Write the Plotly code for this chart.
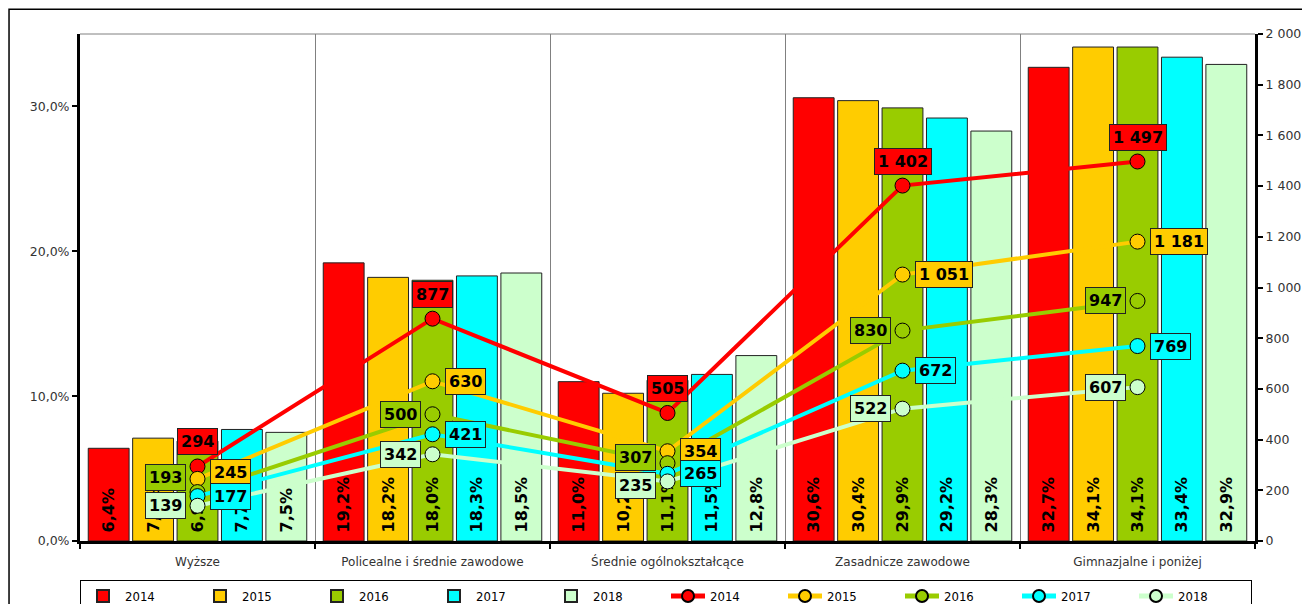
import plotly.graph_objects as go

categories = ["Wyższe", "Policealne i średnie zawodowe", "Średnie ogólnokształcące",
              "Zasadnicze zawodowe", "Gimnazjalne i poniżej"]
years = ["2014", "2015", "2016", "2017", "2018"]

# share of each education level (%), left axis
share = {
    "2014": [6.4, 19.2, 11.0, 30.6, 32.7],
    "2015": [7.1, 18.2, 10.2, 30.4, 34.1],
    "2016": [6.9, 18.0, 11.1, 29.9, 34.1],
    "2017": [7.7, 18.3, 11.5, 29.2, 33.4],
    "2018": [7.5, 18.5, 12.8, 28.3, 32.9],
}
# number of persons, right axis
count = {
    "2014": [294, 877, 505, 1402, 1497],
    "2015": [245, 630, 354, 1051, 1181],
    "2016": [193, 500, 307, 830, 947],
    "2017": [177, 421, 265, 672, 769],
    "2018": [139, 342, 235, 522, 607],
}

colors = {"2014": "#FF0000", "2015": "#FFCC00", "2016": "#99CC00",
          "2017": "#00FFFF", "2018": "#CCFFCC"}
label_side = {"2014": "above", "2015": "right", "2016": "left",
              "2017": "right", "2018": "left"}
# small manual label nudges (px) to avoid overlaps: (year, category index) -> yshift
nudge = {("2016", 0): 15, ("2015", 0): 6, ("2016", 2): 6, ("2018", 2): -4}

FONT = "DejaVu Sans, Verdana, sans-serif"

fig = go.Figure()
for yr in years:
    fig.add_trace(go.Bar(
        x=categories, y=share[yr], name=yr, yaxis="y",
        marker=dict(color=colors[yr], line=dict(color="#222222", width=1)),
        texttemplate="\u00a0%{y:.1f}%", textposition="inside", insidetextanchor="start",
        textangle=-90, constraintext="none",
        textfont=dict(family=FONT, size=16, color="black", weight="bold"),
        legendgroup="bars",
    ))
for yr in years:
    fig.add_trace(go.Scatter(
        x=categories, y=count[yr], name=yr, yaxis="y2", mode="lines+markers",
        line=dict(color=colors[yr], width=4),
        marker=dict(size=15, color=colors[yr], line=dict(color="black", width=1)),
        legendgroup="lines",
    ))

annotations = []
for yr in years:
    for i, (c, v) in enumerate(zip(categories, count[yr])):
        side = label_side[yr]
        a = dict(x=c, y=v, xref="x", yref="y2", text=f"{v:,}".replace(",", " "),
                 showarrow=False, bgcolor=colors[yr], bordercolor="#222222",
                 borderwidth=1, borderpad=3,
                 font=dict(family=FONT, size=16, color="black", weight="bold"))
        ys = nudge.get((yr, i), 0)
        if side == "above":
            a.update(xanchor="center", yanchor="bottom", yshift=11 + ys)
        elif side == "right":
            a.update(xanchor="left", yanchor="middle", xshift=12, yshift=ys)
        else:
            a.update(xanchor="right", yanchor="middle", xshift=-12, yshift=ys)
        annotations.append(a)

fig.update_layout(
    width=1302, height=596,
    margin=dict(l=72, r=55, t=26, b=63, autoexpand=False),
    paper_bgcolor="white", plot_bgcolor="white",
    separators=", ",
    barmode="group", bargap=0.055, bargroupgap=0.08,
    font=dict(family=FONT, size=12, color="#333333"),
    xaxis=dict(
        type="category", tickson="boundaries", ticks="outside", ticklen=5,
        tickwidth=2, tickcolor="black", showline=True, linecolor="black",
        linewidth=3, showgrid=True, gridcolor="#808080", gridwidth=1,
        ticklabelstandoff=8,
        tickfont=dict(family=FONT, size=12, color="#333333"),
    ),
    yaxis=dict(
        range=[0, 35], dtick=10, tickformat=".1f", ticksuffix="%",
        ticks="outside", ticklen=5, tickwidth=2, tickcolor="black",
        showline=True, linecolor="black", linewidth=3, showgrid=False,
        zeroline=False, tickfont=dict(family=FONT, size=12.5, color="#333333"),
    ),
    yaxis2=dict(
        range=[0, 2000], dtick=200, tickformat=",d", overlaying="y", side="right",
        ticks="outside", ticklen=5, tickwidth=2, tickcolor="black",
        showline=True, linecolor="black", linewidth=3, showgrid=False,
        zeroline=False, tickfont=dict(family=FONT, size=12.5, color="#333333"),
    ),
    legend=dict(
        orientation="h", x=0, xanchor="left", y=-0.077, yanchor="top",
        bordercolor="black", borderwidth=1, bgcolor="white",
        entrywidth=68, itemwidth=34, traceorder="normal", itemsizing="constant",
        font=dict(family="Liberation Sans Narrow, Arial Narrow, DejaVu Sans Condensed, sans-serif",
                  size=13, color="black"),
    ),
    annotations=annotations,
    shapes=[
        dict(type="line", xref="paper", yref="paper", x0=0, x1=1, y0=1, y1=1,
             line=dict(color="#808080", width=1)),
        dict(type="rect", xref="paper", yref="paper", x0=-0.0604, x1=1.3,
             y0=-0.3, y1=1.049, line=dict(color="black", width=1.5)),
    ],
)

fig.write_html("out.html")
